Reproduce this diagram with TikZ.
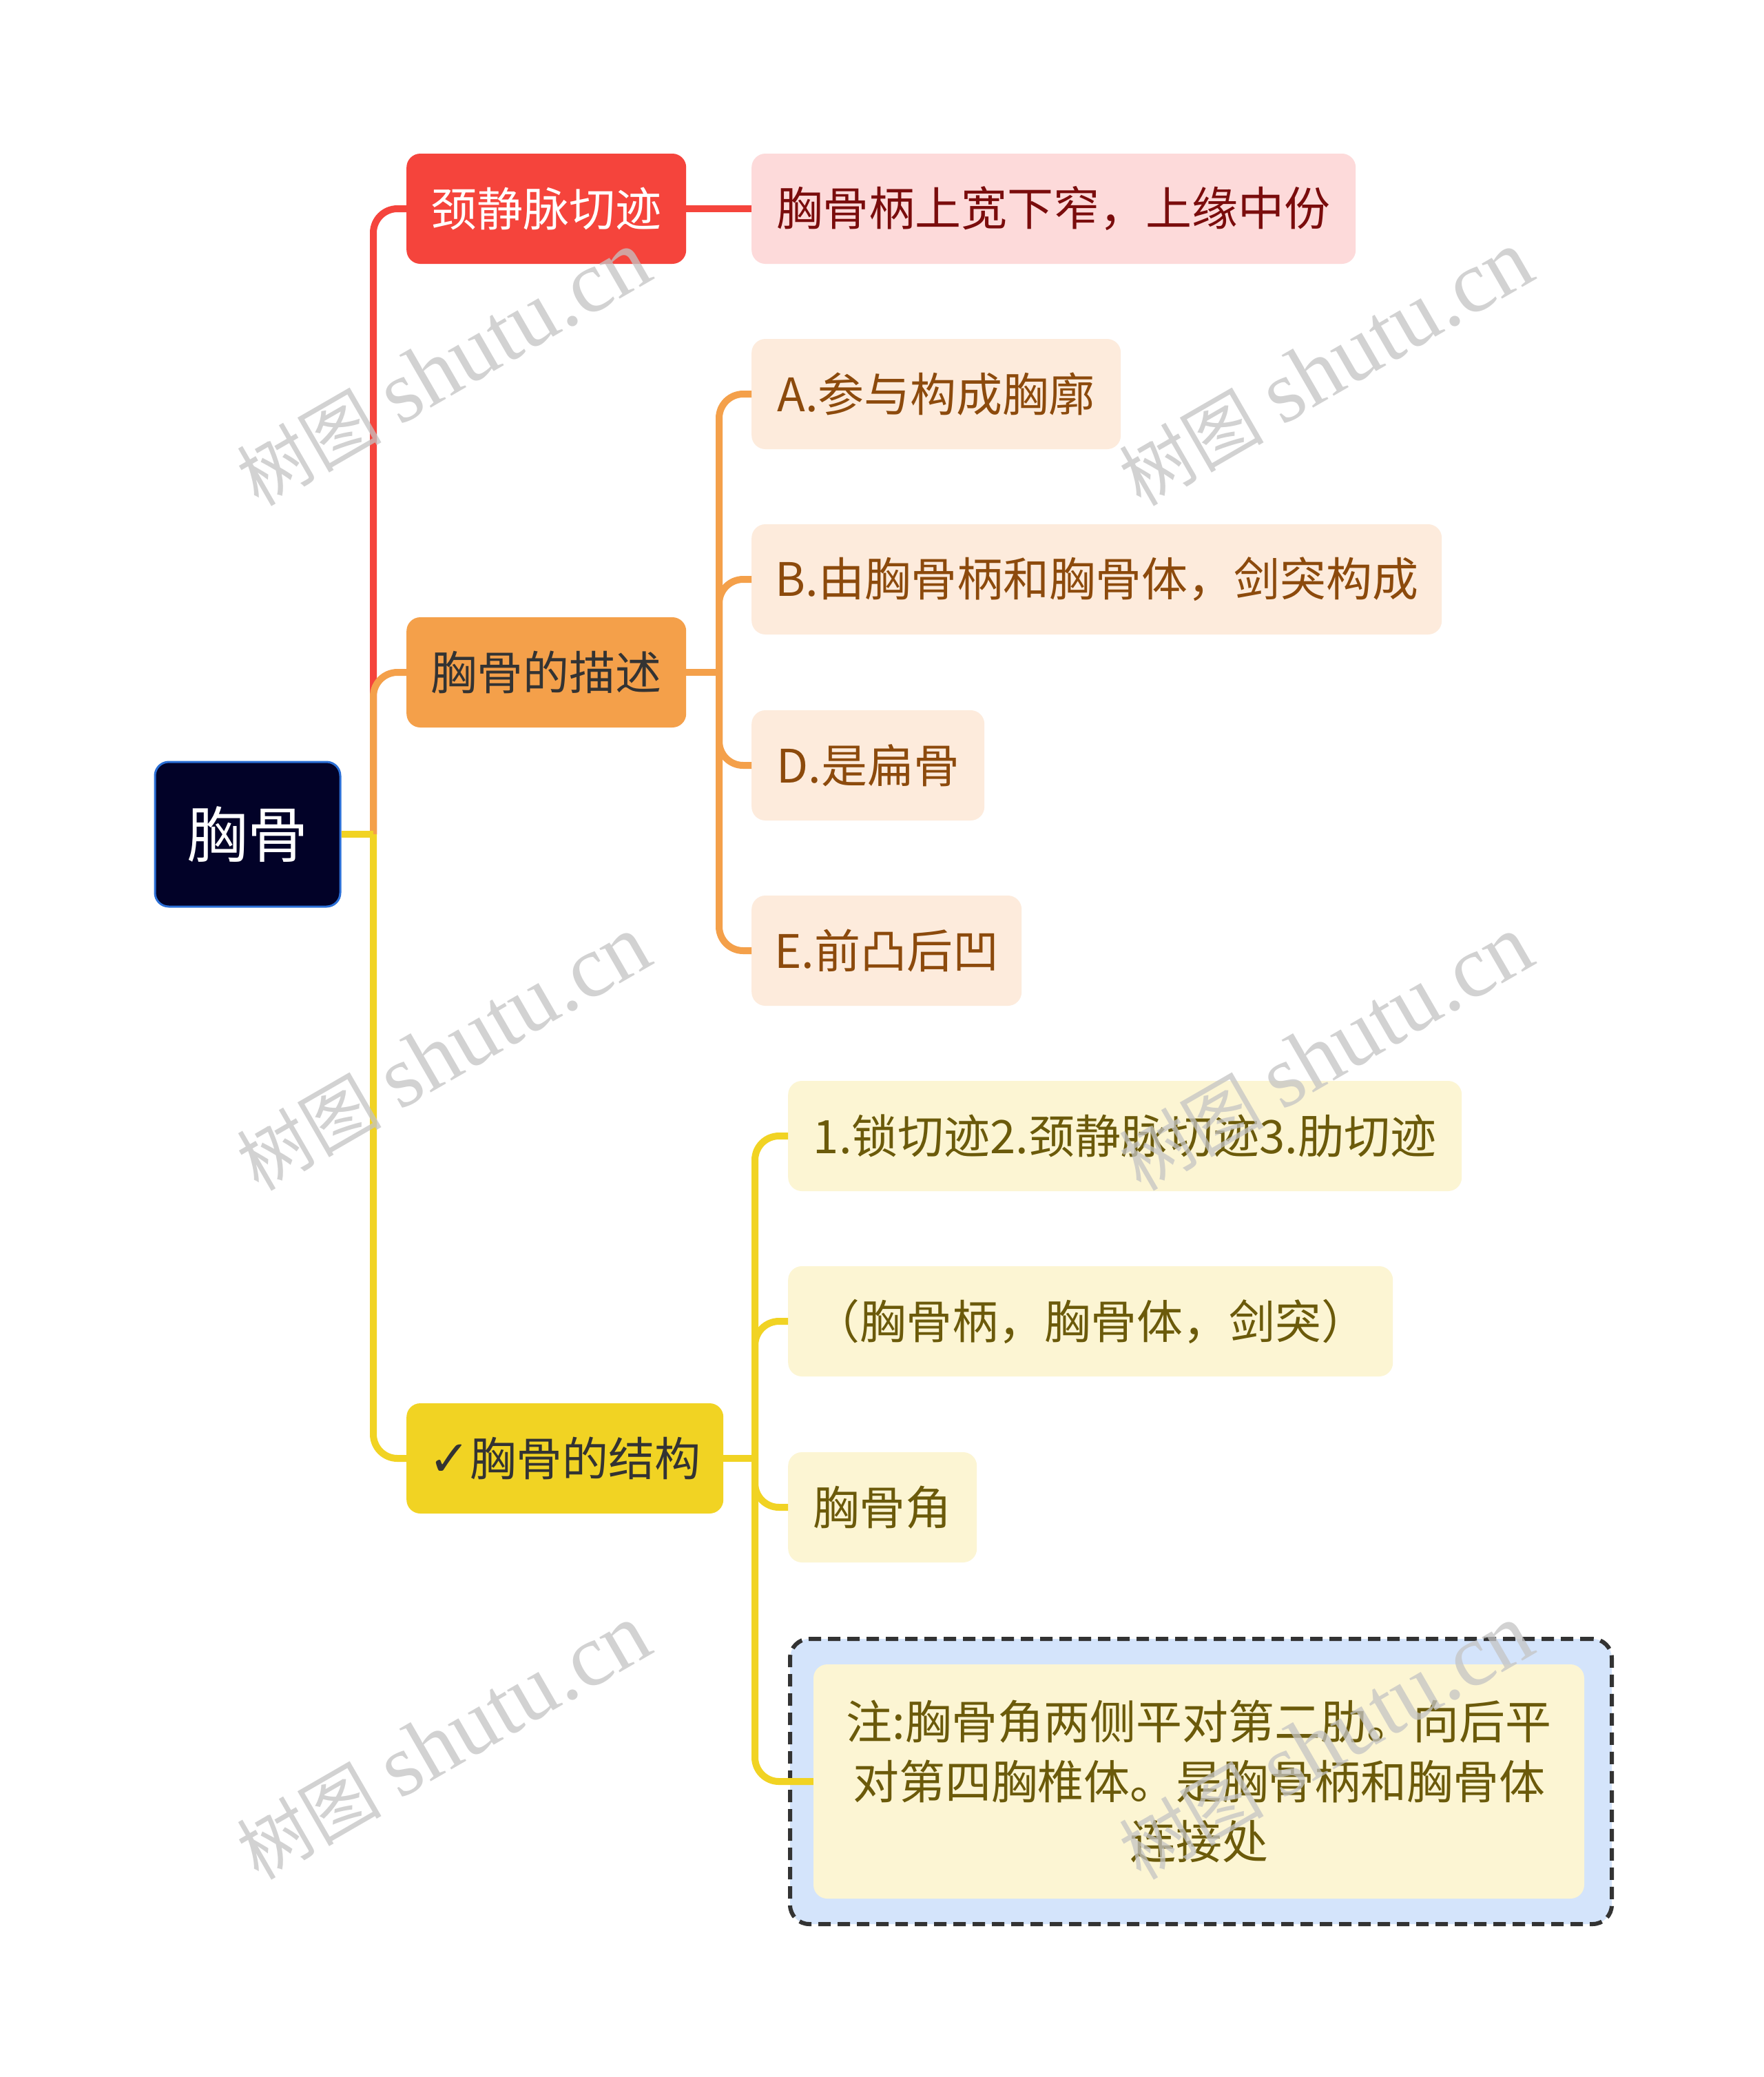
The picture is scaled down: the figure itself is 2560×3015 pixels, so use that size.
\documentclass[tikz,border=0pt]{standalone}
\usepackage{fontspec}
\setmainfont{Noto Sans CJK SC}
\newfontfamily\symfont{DejaVu Sans}
\newfontfamily\wmserif{Liberation Serif}
\definecolor{rootfill}{HTML}{020228}
\definecolor{rootborder}{HTML}{2B6FD6}
\definecolor{redc}{HTML}{F5443C}
\definecolor{orangec}{HTML}{F4A04A}
\definecolor{yellowc}{HTML}{F1D323}
\definecolor{pinkfill}{HTML}{FDDADA}
\definecolor{pinktext}{HTML}{7A0C0C}
\definecolor{peachfill}{HTML}{FDEBDC}
\definecolor{peachtext}{HTML}{8C4A0C}
\definecolor{lyfill}{HTML}{FCF5D3}
\definecolor{lytext}{HTML}{6B5A0A}
\definecolor{notebg}{HTML}{D4E4FB}
\definecolor{darktext}{HTML}{333333}
\definecolor{wmgray}{HTML}{C4C4C4}
\tikzset{
  basebox/.style={rounded corners=20, inner sep=0pt, align=center, minimum height=160,
    font=\fontsize{67}{87}\selectfont},
  rootbox/.style={basebox, fill=rootfill, draw=rootborder, line width=3, text=white,
    font=\fontsize{88}{100}\selectfont},
  redbox/.style={basebox, anchor=west, fill=redc, text=white},
  orangebox/.style={basebox, anchor=west, fill=orangec, text=darktext},
  yellowbox/.style={basebox, anchor=west, fill=yellowc, text=darktext},
  pinkbox/.style={basebox, anchor=west, fill=pinkfill, text=pinktext},
  peachbox/.style={basebox, anchor=west, fill=peachfill, text=peachtext},
  lybox/.style={basebox, anchor=west, fill=lyfill, text=lytext},
  conn/.style={line width=10, rounded corners=35},
  redline/.style={conn, draw=redc},
  orangeline/.style={conn, draw=orangec},
  yellowline/.style={conn, draw=yellowc},
  wm/.style={rotate=30, text=wmgray, opacity=0.75, inner sep=0pt}
}
\begin{document}
\begin{tikzpicture}[x=1pt, y=-1pt]
\useasboundingbox[fill=white] (0,0) rectangle (2560,3015);

% root
\node[rootbox, minimum width=269, minimum height=210] (root) at (359.5,1211) {胸骨};

% level 1
\node[redbox, minimum width=406] (c1) at (590,303) {颈静脉切迹};
\node[orangebox, minimum width=406] (c2) at (590,976) {胸骨的描述};
\node[yellowbox, minimum width=460] (c3) at (590,2117) {{\symfont\bfseries\fontsize{72}{87}\selectfont ✓}胸骨的结构};

% red child
\node[pinkbox, minimum width=877] (p1) at (1091,303) {胸骨柄上宽下窄，上缘中份};

% orange children
\node[peachbox, minimum width=536] (a1) at (1091,572) {A.参与构成胸廓};
\node[peachbox, minimum width=1002] (a2) at (1091,841) {B.由胸骨柄和胸骨体，剑突构成};
\node[peachbox, minimum width=338] (a3) at (1091,1111) {D.是扁骨};
\node[peachbox, minimum width=392] (a4) at (1091,1380) {E.前凸后凹};

% yellow children
\node[lybox, minimum width=978] (y1) at (1144,1649) {1.锁切迹2.颈静脉切迹3.肋切迹};
\node[lybox, minimum width=878] (y2) at (1144,1918) {（胸骨柄，胸骨体，剑突）};
\node[lybox, minimum width=274] (y3) at (1144,2188) {胸骨角};
\node[draw=darktext, dash pattern=on 18 off 10, line width=6, fill=notebg,
  rounded corners=28, minimum width=1193, minimum height=414, inner sep=0pt, anchor=west]
  (yout) at (1144,2586) {};
\node[basebox, fill=lyfill, text=lytext, minimum width=1119, minimum height=340] (y4) at (1740.5,2586)
  {注:胸骨角两侧平对第二肋。向后平\\对第四胸椎体。是胸骨柄和胸骨体\\连接处};

% junctions
\coordinate (j) at (542,1211);
\coordinate (jo) at (1044,976);
\coordinate (jy) at (1096,2117);

% connectors
\draw[redline] (j) |- (c1.west);
\draw[redline] (c1.east) -- (p1.west);
\draw[orangeline] (j) |- (c2.west);
\draw[orangeline] (c2.east) -- (jo);
\draw[orangeline] (jo) |- (a1.west);
\draw[orangeline] (jo) |- (a2.west);
\draw[orangeline] (jo) |- (a3.west);
\draw[orangeline] (jo) |- (a4.west);
\draw[yellowline] (j) |- (c3.west);
\draw[yellowline] (root.east) -- (j);
\draw[yellowline] (c3.east) -- (jy);
\draw[yellowline] (jy) |- (y1.west);
\draw[yellowline] (jy) |- (y2.west);
\draw[yellowline] (jy) |- (y3.west);
\draw[yellowline] (jy) |- (y4.west);

% watermarks
\foreach \wx/\wy [count=\i] in {644/535, 1925/535, 644/1529, 1925/1529, 644/2529, 1925/2529}{
  \node[wm] (wm\i) at (\wx,\wy) {\fontsize{105}{110}\selectfont 树图\hspace{0.25em}{\wmserif\fontsize{128}{130}\selectfont shutu.cn}};
}
\end{tikzpicture}
\end{document}
